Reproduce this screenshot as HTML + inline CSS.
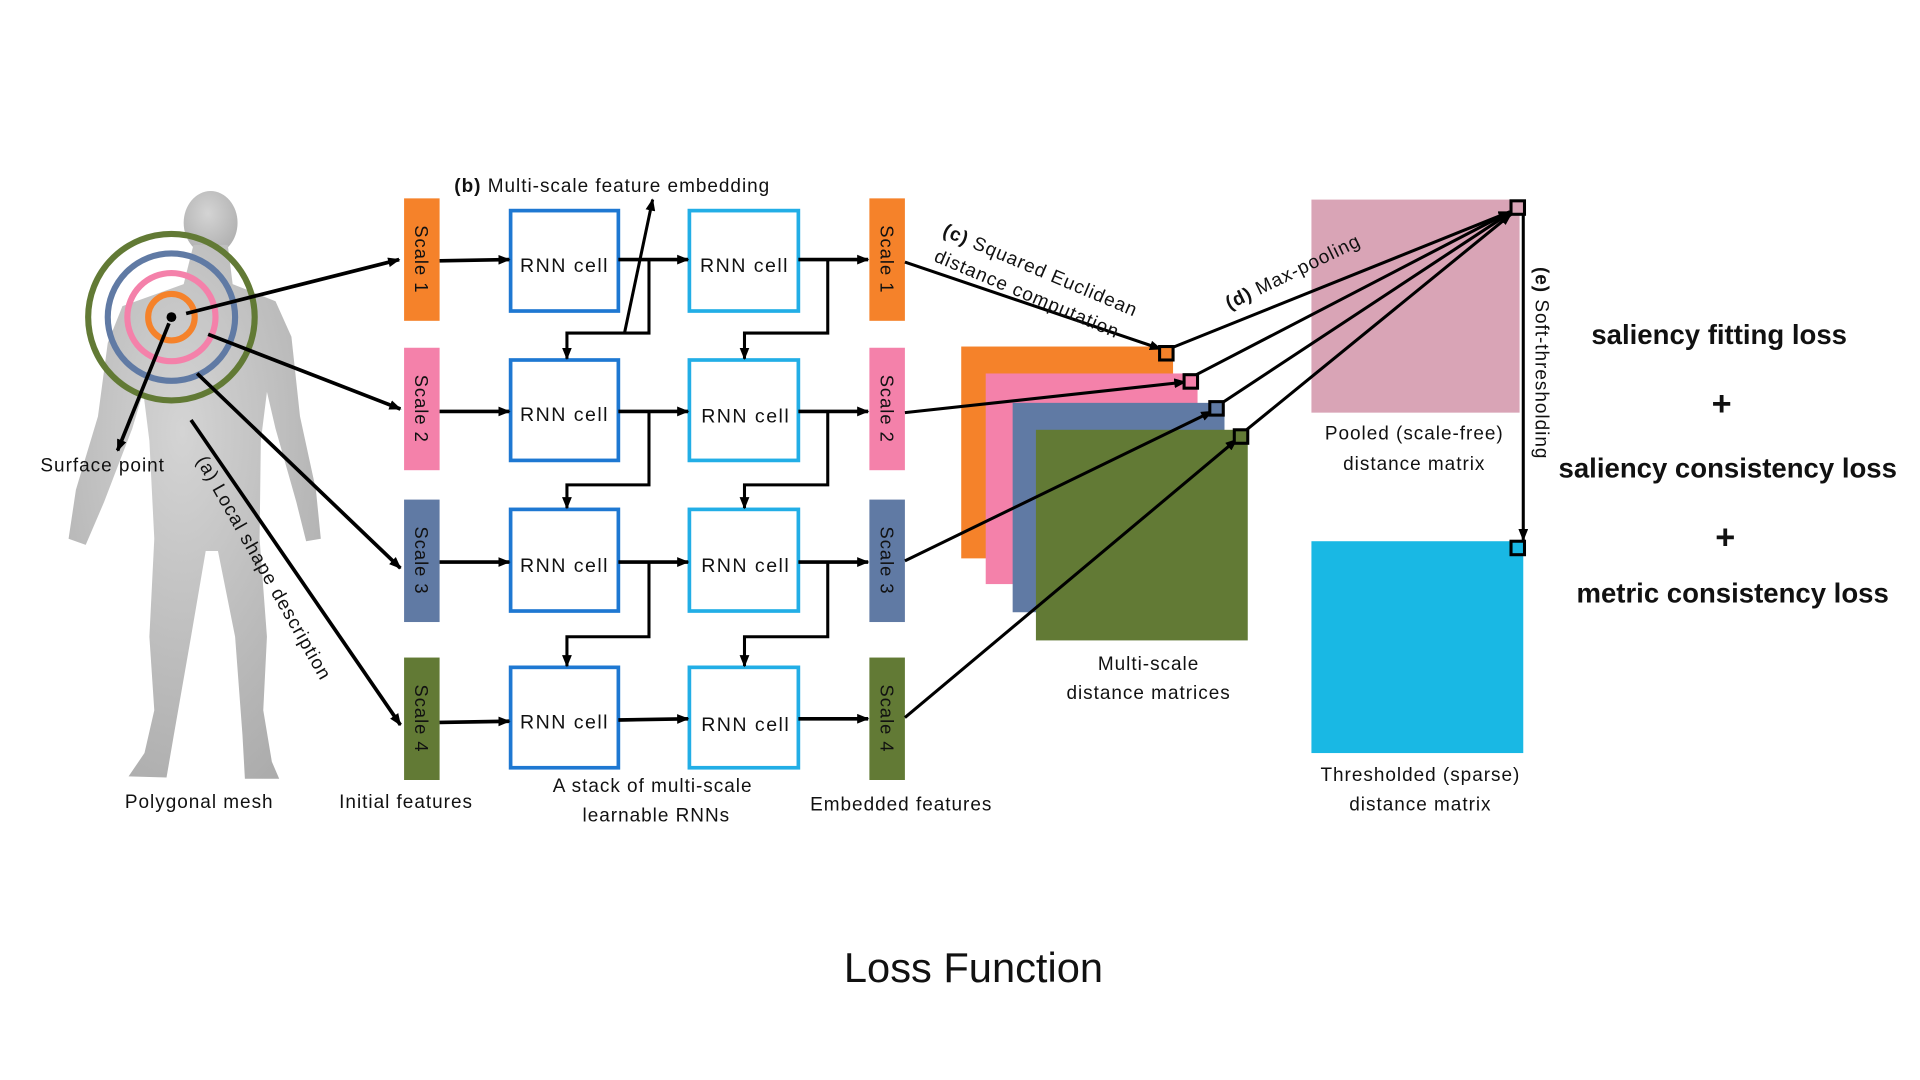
<!DOCTYPE html>
<html><head><meta charset="utf-8"><style>
html,body{margin:0;padding:0;background:#fff;}
svg{display:block}
text{font-family:"Liberation Sans",sans-serif;fill:#111}
.l{font-size:15.5px;letter-spacing:0.8px}
.r{font-size:16px;letter-spacing:1.2px}
.b{font-weight:bold;font-size:22.5px}
</style></head><body>
<svg width="1920" height="1080" viewBox="0 0 1568 882" xmlns="http://www.w3.org/2000/svg">
<defs>
<marker id="a" markerWidth="10" markerHeight="8" refX="9" refY="4" orient="auto" markerUnits="userSpaceOnUse"><path d="M0,0 L10,4 L0,8 Z" fill="#000"/></marker>
<radialGradient id="g" cx="0.45" cy="0.35" r="0.8"><stop offset="0" stop-color="#d4d4d4"/><stop offset="1" stop-color="#a8a8a8"/></radialGradient>
</defs>
<g fill="url(#g)">
<ellipse cx="172" cy="182" rx="22" ry="26"/>
<path d="M158,200 L186,200 L190,232 L225,246 L238,275 L245,340 L258,400 L262,440 L250,442 L242,410 L225,350 L218,320 L213,360 L212,440 L218,520 L215,580 L222,622 L228,636 L200,636 L198,600 L192,520 L178,450 L168,450 L156,520 L142,600 L136,635 L105,634 L118,615 L126,580 L122,520 L126,440 L122,360 L117,320 L108,350 L85,410 L70,445 L56,440 L62,400 L80,340 L88,280 L100,250 L150,232 Z"/>
</g>
<circle cx="140" cy="259" r="68" fill="none" stroke="#627a35" stroke-width="5"/>
<circle cx="140" cy="259" r="52" fill="none" stroke="#607aa4" stroke-width="5"/>
<circle cx="140" cy="259" r="36" fill="none" stroke="#f481aa" stroke-width="5"/>
<circle cx="140" cy="259" r="19" fill="none" stroke="#f5822a" stroke-width="5"/>
<circle cx="140" cy="259" r="4" fill="#000"/>
<g stroke="#000" stroke-width="3" fill="none" marker-end="url(#a)">
<line x1="152" y1="256" x2="326" y2="212"/>
<line x1="170" y1="273" x2="327" y2="334"/>
<line x1="161" y1="305" x2="327" y2="464"/>
<line x1="156" y1="343" x2="327" y2="592"/>
<line x1="138" y1="264" x2="96" y2="368"/>
</g>
<text x="33" y="385" class="l">Surface point</text>
<text transform="translate(160,376) rotate(60.5)" class="l">(a) Local shape description</text>
<text x="102" y="660" class="l">Polygonal mesh</text>
<text x="277" y="660" class="l">Initial features</text>
<g>
<rect x="330" y="162" width="29" height="100" fill="#f5822a"/>
<rect x="330" y="284" width="29" height="100" fill="#f481aa"/>
<rect x="330" y="408" width="29" height="100" fill="#607aa4"/>
<rect x="330" y="537" width="29" height="100" fill="#627a35"/>
<rect x="710" y="162" width="29" height="100" fill="#f5822a"/>
<rect x="710" y="284" width="29" height="100" fill="#f481aa"/>
<rect x="710" y="408" width="29" height="100" fill="#607aa4"/>
<rect x="710" y="537" width="29" height="100" fill="#627a35"/>
</g>
<g class="l" style="font-size:15px">
<text transform="translate(339,184) rotate(90)">Scale 1</text>
<text transform="translate(339,306) rotate(90)">Scale 2</text>
<text transform="translate(339,430) rotate(90)">Scale 3</text>
<text transform="translate(339,559) rotate(90)">Scale 4</text>
<text transform="translate(719,184) rotate(90)">Scale 1</text>
<text transform="translate(719,306) rotate(90)">Scale 2</text>
<text transform="translate(719,430) rotate(90)">Scale 3</text>
<text transform="translate(719,559) rotate(90)">Scale 4</text>
</g>
<g fill="#fff" stroke-width="3">
<rect x="417" y="172" width="88" height="82" stroke="#1e78d2"/>
<rect x="417" y="294" width="88" height="82" stroke="#1e78d2"/>
<rect x="417" y="416" width="88" height="83" stroke="#1e78d2"/>
<rect x="417" y="545" width="88" height="82" stroke="#1e78d2"/>
<rect x="563" y="172" width="89" height="82" stroke="#22aee6"/>
<rect x="563" y="294" width="89" height="82" stroke="#22aee6"/>
<rect x="563" y="416" width="89" height="83" stroke="#22aee6"/>
<rect x="563" y="545" width="89" height="82" stroke="#22aee6"/>
</g>
<g class="r" text-anchor="middle">
<text x="461" y="222">RNN cell</text><text x="608" y="222">RNN cell</text>
<text x="461" y="344">RNN cell</text><text x="609" y="345">RNN cell</text>
<text x="461" y="467">RNN cell</text><text x="609" y="467">RNN cell</text>
<text x="461" y="595">RNN cell</text><text x="609" y="597">RNN cell</text>
</g>
<g stroke="#000" stroke-width="3" fill="none" marker-end="url(#a)">
<line x1="359" y1="213" x2="416" y2="212"/>
<line x1="505" y1="212" x2="562" y2="212"/>
<line x1="652" y1="212" x2="709" y2="212"/>
<line x1="359" y1="336" x2="416" y2="336"/>
<line x1="505" y1="336" x2="562" y2="336"/>
<line x1="652" y1="336" x2="709" y2="336"/>
<line x1="359" y1="459" x2="416" y2="459"/>
<line x1="505" y1="459" x2="562" y2="459"/>
<line x1="652" y1="459" x2="709" y2="459"/>
<line x1="359" y1="590" x2="416" y2="589"/>
<line x1="505" y1="588" x2="562" y2="587"/>
<line x1="652" y1="587" x2="709" y2="587"/>
</g>
<g stroke="#000" stroke-width="2.5" fill="none" marker-end="url(#a)">
<polyline points="530,212 530,272 463,272 463,293"/>
<polyline points="676,212 676,272 608,272 608,293"/>
<polyline points="530,336 530,396 463,396 463,415"/>
<polyline points="676,336 676,396 608,396 608,415"/>
<polyline points="530,459 530,520 463,520 463,544"/>
<polyline points="676,459 676,520 608,520 608,544"/>
<line x1="510" y1="272" x2="533" y2="163"/>
</g>
<text x="371" y="157" class="l"><tspan font-weight="bold">(b)</tspan> Multi-scale feature embedding</text>
<text x="533" y="647" class="l" text-anchor="middle">A stack of multi-scale</text>
<text x="536" y="671" class="l" text-anchor="middle">learnable RNNs</text>
<text x="736" y="662" class="l" text-anchor="middle">Embedded features</text>
<rect x="785" y="283" width="173" height="173" fill="#f5822a"/>
<rect x="805" y="305" width="173" height="172" fill="#f481aa"/>
<rect x="827" y="329" width="173" height="171" fill="#607aa4"/>
<rect x="846" y="351" width="173" height="172" fill="#627a35"/>
<text x="938" y="547" class="l" text-anchor="middle">Multi-scale</text>
<text x="938" y="571" class="l" text-anchor="middle">distance matrices</text>
<rect x="1071" y="163" width="170" height="174" fill="#d9a4b6"/>
<rect x="1071" y="442" width="173" height="173" fill="#19b8e4"/>
<text x="1155" y="359" class="l" text-anchor="middle">Pooled (scale-free)</text>
<text x="1155" y="384" class="l" text-anchor="middle">distance matrix</text>
<text x="1160" y="638" class="l" text-anchor="middle">Thresholded (sparse)</text>
<text x="1160" y="662" class="l" text-anchor="middle">distance matrix</text>
<g stroke="#000" stroke-width="2.5" fill="none" marker-end="url(#a)">
<line x1="739" y1="214" x2="948" y2="285"/>
<line x1="739" y1="337" x2="968" y2="312"/>
<line x1="739" y1="458" x2="990" y2="336"/>
<line x1="739" y1="586" x2="1010" y2="359"/>
<line x1="957" y1="284" x2="1233" y2="173"/>
<line x1="977" y1="306" x2="1233" y2="173"/>
<line x1="998" y1="329" x2="1233" y2="174"/>
<line x1="1018" y1="351" x2="1234" y2="175"/>
<line x1="1244" y1="175" x2="1244" y2="441"/>
</g>
<g fill="none" stroke="#000" stroke-width="2.5">
<rect x="947" y="283" width="11" height="11" fill="#f5822a"/>
<rect x="967" y="306" width="11" height="11" fill="#f481aa"/>
<rect x="988" y="328" width="11" height="11" fill="#607aa4"/>
<rect x="1008" y="351" width="11" height="11" fill="#627a35"/>
<rect x="1234" y="164" width="11" height="11" fill="#d9a4b6"/>
<rect x="1234" y="442" width="11" height="11" fill="#19b8e4"/>
</g>
<text transform="translate(769,192) rotate(23)" class="l"><tspan font-weight="bold">(c)</tspan> Squared Euclidean</text>
<text transform="translate(762,213) rotate(23)" class="l">distance computation</text>
<text transform="translate(1004,253) rotate(-26)" class="l"><tspan font-weight="bold">(d)</tspan> Max-pooling</text>
<text transform="translate(1254,218) rotate(90)" class="l"><tspan font-weight="bold">(e)</tspan> Soft-thresholding</text>
<g class="b" text-anchor="middle">
<text x="1404" y="281">saliency fitting loss</text>
<text x="1406" y="339" style="font-size:28px">+</text>
<text x="1411" y="390">saliency consistency loss</text>
<text x="1409" y="448" style="font-size:28px">+</text>
<text x="1415" y="492">metric consistency loss</text>
</g>
<text x="795" y="802" text-anchor="middle" style="font-size:34px">Loss Function</text>
</svg>
</body></html>
